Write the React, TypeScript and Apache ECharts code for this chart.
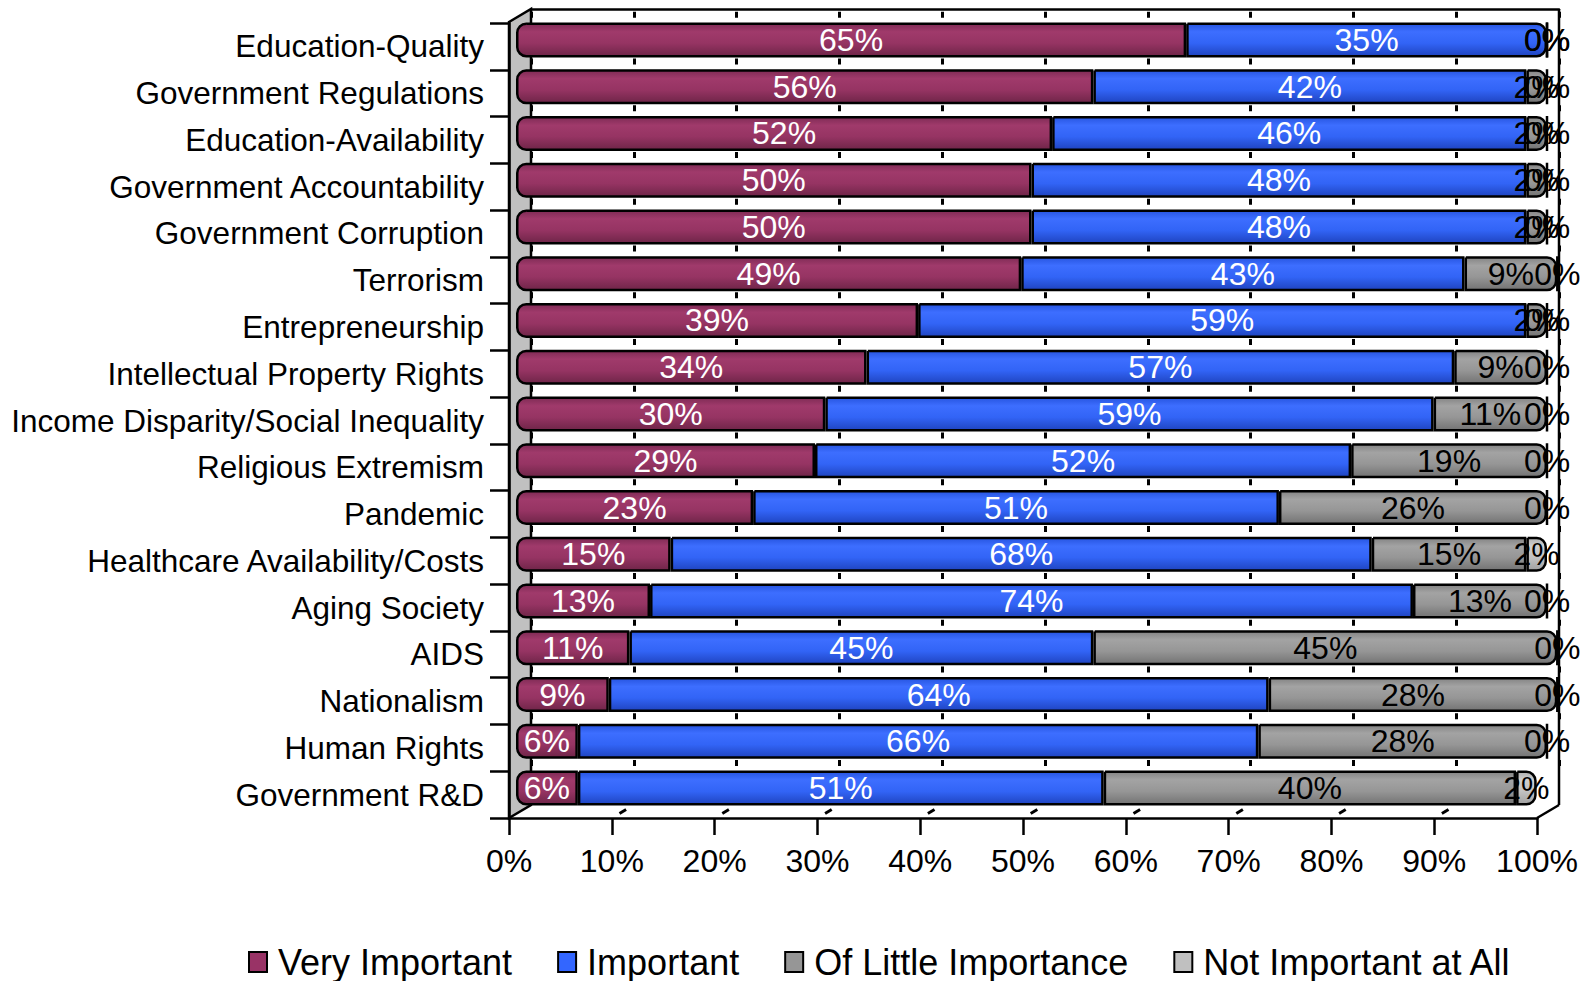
import React, { useEffect, useRef } from "react";
import * as echarts from "echarts";

// Survey categories, top to bottom
const categories = [
  "Education-Quality",
  "Government Regulations",
  "Education-Availability",
  "Government Accountability",
  "Government Corruption",
  "Terrorism",
  "Entrepreneurship",
  "Intellectual Property Rights",
  "Income Disparity/Social Inequality",
  "Religious Extremism",
  "Pandemic",
  "Healthcare Availability/Costs",
  "Aging Society",
  "AIDS",
  "Nationalism",
  "Human Rights",
  "Government R&D",
];

// Share of respondents (%) per answer
const veryImportant = [65, 56, 52, 50, 50, 49, 39, 34, 30, 29, 23, 15, 13, 11, 9, 6, 6];
const important = [35, 42, 46, 48, 48, 43, 59, 57, 59, 52, 51, 68, 74, 45, 64, 66, 51];
const littleImportance = [0, 2, 2, 2, 2, 9, 2, 9, 11, 19, 26, 15, 13, 45, 28, 28, 40];
const notImportant = [0, 0, 0, 0, 0, 0, 0, 0, 0, 0, 0, 2, 0, 0, 0, 0, 2];

const seriesNames = ["Very Important", "Important", "Of Little Importance", "Not Important at All"];
const seriesValues = [veryImportant, important, littleImportance, notImportant];
const axisTicks = [0, 10, 20, 30, 40, 50, 60, 70, 80, 90, 100];

const FONT = "'Liberation Sans', Arial, Helvetica, sans-serif";
const baseColors = ["#993366", "#3366FF", "#969696", "#C0C0C0"];
const labelColors = ["#ffffff", "#ffffff", "#000000", "#000000"];

// Cylinder-like shading for each colour
const shades = [
  ["#7f2b55", "#a03a6b", "#963463", "#6f2548"],
  ["#2755e0", "#3d6eff", "#3264f6", "#1f44c0"],
  ["#848484", "#a3a3a3", "#969696", "#737373"],
  ["#b0b0b0", "#d0d0d0", "#c2c2c2", "#a0a0a0"],
];

const shade = (c: string[]) =>
  new echarts.graphic.LinearGradient(0, 0, 0, 1, [
    { offset: 0, color: c[0] },
    { offset: 0.25, color: c[1] },
    { offset: 0.6, color: c[2] },
    { offset: 1, color: c[3] },
  ]);

// Frame geometry (front plane and depth offset)
const FRONT_L = 509;
const FRONT_R = 1537;
const FRONT_T = 23;
const FRONT_B = 818;
const DX = 22;
const DY = -13;
const W = 1589;
const H = 981;

export default function App() {
  const ref = useRef<HTMLDivElement>(null);

  useEffect(() => {
    if (!ref.current) return;
    const chart = echarts.init(ref.current, null, { renderer: "svg" });

    const R = 9;
    const series = seriesValues.map((vals, si) => ({
      name: seriesNames[si],
      type: "bar",
      stack: "total",
      xAxisIndex: 0,
      yAxisIndex: 0,
      barWidth: 35,
      clip: false,
      data: vals.map((v, row) => {
        const rowVals = seriesValues.map((s) => s[row]);
        let last = 0;
        rowVals.forEach((x, i) => {
          if (x > 0) last = i;
        });
        const left = si === 0 ? R : 0;
        const right = si === last ? R : 0;
        return { value: v, itemStyle: { borderRadius: [left, right, right, left] } };
      }),
      itemStyle: {
        color: shade(shades[si]),
        borderColor: "#000",
        borderWidth: 2.5,
      },
      label: {
        show: true,
        position: "inside",
        formatter: "{c}%",
        fontSize: 32,
        fontFamily: FONT,
        color: labelColors[si],
        textBorderWidth: 0,
      },
      z: 2,
    }));

    const line = { color: "#000", width: 2.5 };

    // floor grid marks between front ticks and back wall
    const floorMarks = axisTicks.slice(1, -1).map((t) => {
      const fx = FRONT_L + ((FRONT_R - FRONT_L) * t) / 100;
      const bx = fx + DX;
      const a = 0.35;
      const b = 0.65;
      return {
        type: "line",
        z: 1,
        shape: {
          x1: fx + (bx - fx) * a,
          y1: FRONT_B + DY * a,
          x2: fx + (bx - fx) * b,
          y2: FRONT_B + DY * b,
        },
        style: { stroke: "#000", lineWidth: 3 },
      };
    });

    chart.setOption({
      animation: false,
      textStyle: { fontFamily: FONT },
      grid: [
        { left: 516, right: 42, top: 16.5, bottom: 169.5 },
        { left: FRONT_L, right: W - FRONT_R, top: FRONT_T, bottom: H - FRONT_B },
        { left: FRONT_L + DX, right: W - FRONT_R - DX, top: FRONT_T + DY - 1, bottom: H - FRONT_B - DY },
      ],
      xAxis: [
        { gridIndex: 0, type: "value", min: 0, max: 100, show: false },
        {
          gridIndex: 1,
          type: "value",
          min: 0,
          max: 100,
          interval: 10,
          z: 3,
          axisLine: { show: true, lineStyle: line },
          axisTick: { show: true, length: 17, lineStyle: line },
          axisLabel: {
            formatter: "{value}%",
            fontSize: 32,
            fontFamily: FONT,
            color: "#000",
            margin: 27,
          },
          splitLine: { show: false },
        },
        {
          gridIndex: 2,
          type: "value",
          min: 0,
          max: 100,
          interval: 10,
          position: "top",
          axisLine: { show: true, lineStyle: line },
          axisTick: { show: false },
          axisLabel: { show: false },
          splitLine: {
            show: true,
            lineStyle: { color: "#000", width: 3, type: [6, 40.76], dashOffset: 43.5 },
          },
        },
      ],
      yAxis: [
        { gridIndex: 0, type: "category", data: categories, inverse: true, show: false },
        {
          gridIndex: 1,
          type: "category",
          data: categories,
          inverse: true,
          z: 3,
          axisLine: { show: true, lineStyle: line },
          axisTick: { show: true, length: 19, lineStyle: line },
          axisLabel: {
            fontSize: 31.5,
            fontFamily: FONT,
            color: "#000",
            margin: 25,
          },
        },
        { gridIndex: 2, type: "category", data: categories, inverse: true, show: false },
      ],
      legend: {
        left: 243,
        top: 939,
        itemWidth: 18,
        itemHeight: 20,
        itemGap: 45,
        icon: "rect",
        textStyle: {
          fontSize: 36,
          fontFamily: FONT,
          color: "#000",
          padding: [0, 0, 0, 6],
        },
        data: seriesNames.map((n, i) => ({
          name: n,
          itemStyle: { color: baseColors[i], borderColor: "#000", borderWidth: 2 },
        })),
      },
      graphic: [
        // left side wall
        {
          type: "polygon",
          z: 1,
          shape: {
            points: [
              [FRONT_L, FRONT_T - 1],
              [FRONT_L + DX, FRONT_T + DY - 1],
              [FRONT_L + DX, FRONT_B + DY],
              [FRONT_L, FRONT_B],
            ],
          },
          style: { fill: "#c0c0c0", stroke: "#000", lineWidth: 2.5 },
        },
        // back right edge
        {
          type: "line",
          z: 1,
          shape: { x1: FRONT_R + DX, y1: FRONT_T + DY - 1, x2: FRONT_R + DX, y2: FRONT_B + DY },
          style: { stroke: "#000", lineWidth: 2.5 },
        },
        // floor right edge
        {
          type: "line",
          z: 1,
          shape: { x1: FRONT_R, y1: FRONT_B, x2: FRONT_R + DX, y2: FRONT_B + DY },
          style: { stroke: "#000", lineWidth: 2.5 },
        },
        ...floorMarks,
      ],
      series,
    });

    return () => chart.dispose();
  }, []);

  return (
    <div
      ref={ref}
      style={{ position: "fixed", left: 0, top: 0, width: W, height: H, background: "#fff" }}
    />
  );
}
